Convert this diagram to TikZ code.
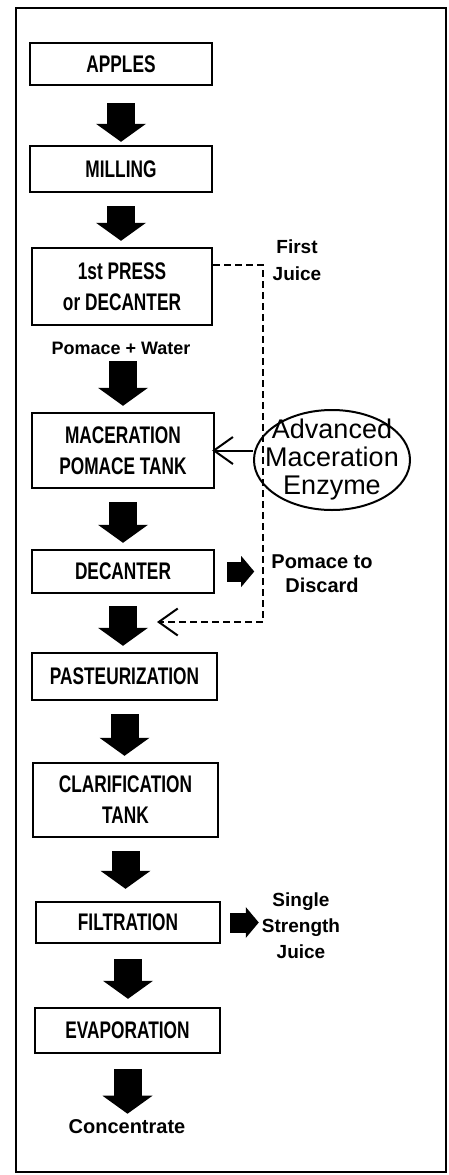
\documentclass[tikz,border=0pt]{standalone}
\usepackage{fontspec}
\newfontfamily\boxfont{Liberation Sans}[FakeStretch=0.72]
\newfontfamily\notefont{Liberation Sans}
\usetikzlibrary{arrows.meta,shapes.geometric}
\tikzset{
  stage/.style={draw, line width=2.4pt, align=center, inner sep=0pt,
    font=\boxfont\bfseries\fontsize{24}{31}\selectfont},
  sidetext/.style={inner sep=0pt, align=center,
    font=\notefont\bfseries\fontsize{18}{26}\selectfont},
  fatarrow/.style={line width=28pt, -{Triangle[length=18pt,width=50pt,line width=0pt]},
    shorten <=13pt, shorten >=6pt},
  sidearrow/.style={line width=20pt, -{Triangle[length=13pt,width=31pt,line width=0pt]}},
  dashline/.style={line width=2pt, dash pattern=on 7pt off 4pt},
  openarrow/.style={line width=2pt, -{Straight Barb[length=19pt,width=27pt,line width=2pt]}}
}
\begin{document}
\begin{tikzpicture}[x=1pt, y=-1pt]
	%%%%% START %%%%%
	\useasboundingbox (0,0) rectangle (449,1175);
	\draw[line width=2pt] (16,8) rectangle (446,1172);
	
	\node[stage, minimum width=182pt, minimum height=42pt] (apples) at (121,64) {APPLES};
	\node[stage, minimum width=182pt, minimum height=46pt] (milling) at (121,169) {MILLING};
	\node[stage, minimum width=180pt, minimum height=77pt] (press) at (122,286.5) {1st PRESS\\or DECANTER};
	\node[sidetext] (water) at (121,348) {Pomace + Water};
	\node[stage, minimum width=182pt, minimum height=75pt] (mac) at (123,450.5) {MACERATION\\POMACE TANK};
	\node[stage, minimum width=182pt, minimum height=43pt] (decant) at (123,571.5) {DECANTER};
	\node[stage, minimum width=185pt, minimum height=47pt] (past) at (124.5,676.5) {PASTEURIZATION};
	\node[stage, minimum width=185pt, minimum height=74pt] (clar) at (125.5,800) {CLARIFICATION\\TANK};
	\node[stage, minimum width=184pt, minimum height=41pt] (filt) at (128,922.5) {FILTRATION};
	\node[stage, minimum width=185pt, minimum height=45pt] (evap) at (127.5,1030.5) {EVAPORATION};
	\node[sidetext, font=\notefont\bfseries\fontsize{20}{24}\selectfont] (conc) at (127,1127) {Concentrate};
	
	\node[sidetext, font=\notefont\bfseries\fontsize{19}{27}\selectfont] (firstjuice) at (297,260) {First\\Juice};
	\node[draw, ellipse, line width=2pt, inner xsep=-12pt, inner ysep=-6pt, minimum width=156pt, minimum height=100pt,
	  align=center, font=\notefont\fontsize{27}{28}\selectfont] (enzyme) at (332,460) {Advanced\\Maceration\\Enzyme};
	\node[sidetext, font=\notefont\bfseries\fontsize{20}{24}\selectfont] (discard) at (322,574) {Pomace to\\Discard};
	\node[sidetext, font=\notefont\bfseries\fontsize{19}{26}\selectfont] (single) at (301,926) {Single\\Strength\\Juice};
	
	% main line
	\draw[fatarrow, shorten <=17pt, shorten >=3pt] (apples.south) -- (apples.south |- milling.north);
	\draw[fatarrow] (milling.south) -- (milling.south |- press.north);
	\draw[fatarrow, shorten <=7pt] (mac.north |- water.south) -- (mac.north);
	\draw[fatarrow] (mac.south) -- (mac.south |- decant.north);
	\draw[fatarrow, shorten <=12pt] (decant.south) -- (decant.south |- past.north);
	\draw[fatarrow] (past.south) -- (past.south |- clar.north);
	\draw[fatarrow, shorten >=12pt] (clar.south) -- (clar.south |- filt.north);
	\draw[fatarrow, shorten <=15pt, shorten >=8pt] (filt.south) -- (filt.south |- evap.north);
	\draw[fatarrow, shorten <=15pt] (evap.south) -- (evap.south |- conc.north);
	
	% side streams
	\draw[sidearrow, shorten <=12pt, shorten >=17pt] (decant.east) -- (decant.east -| discard.west);
	\draw[sidearrow, shorten <=9pt, shorten >=3pt] (filt.east) -- (filt.east -| single.west);
	\draw[openarrow, shorten >=-3pt] (enzyme.west |- mac.east) -- (mac.east);
	
	\coordinate (juicetap) at (263,265);
	\coordinate (mixin) at (157,622);
	\draw[dashline, openarrow] (press.east |- juicetap) -- (juicetap) -- (juicetap |- mixin) -- (mixin);
	
	%%%%% END %%%%%
\end{tikzpicture}
\end{document}
